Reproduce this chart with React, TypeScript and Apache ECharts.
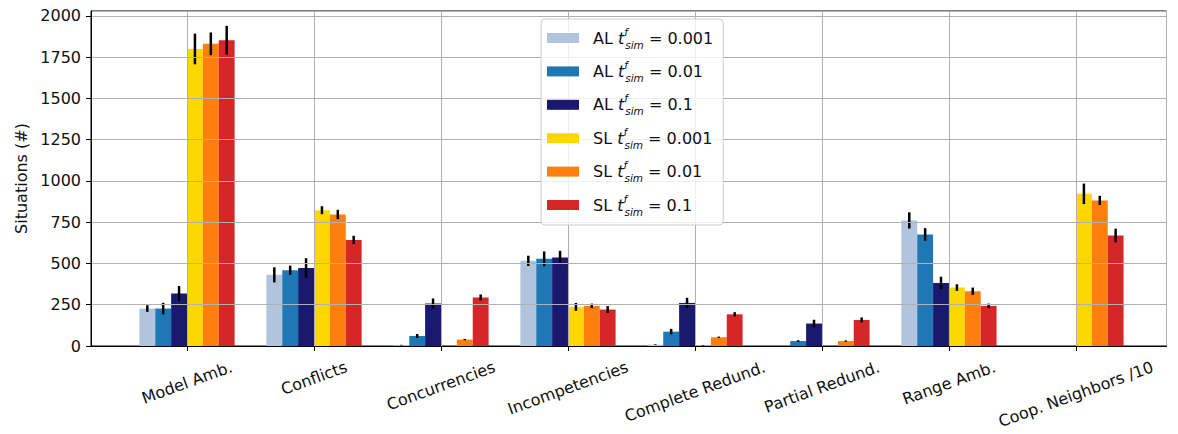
import React, { useEffect, useRef } from 'react';
import * as echarts from 'echarts';

// ---------------- data ----------------
const categories = [
  'Model Amb.',
  'Conflicts',
  'Concurrencies',
  'Incompetencies',
  'Complete Redund.',
  'Partial Redund.',
  'Range Amb.',
  'Coop. Neighbors /10',
];

const seriesPrefix = ['AL', 'AL', 'AL', 'SL', 'SL', 'SL'];
const seriesTime = ['0.001', '0.01', '0.1', '0.001', '0.01', '0.1'];
const seriesNames = seriesPrefix.map((p, i) => `${p} t_sim^f = ${seriesTime[i]}`);
const seriesColors = ['#b0c4de', '#1f77b4', '#191970', '#ffd700', '#ff7f0e', '#d62728'];

const al0001 = [227, 431, 5, 516, 8, 0, 761, 0];
const al001 = [227, 459, 61, 528, 87, 30, 676, 0];
const al01 = [318, 473, 257, 536, 261, 136, 382, 0];
const sl0001 = [1800, 823, 0, 237, 3, 0, 354, 922];
const sl001 = [1831, 797, 39, 243, 53, 30, 332, 882];
const sl01 = [1853, 643, 294, 221, 192, 158, 243, 670];

const al0001Err = [20, 46, 2, 31, 2, 0, 49, 0];
const al001Err = [35, 28, 12, 45, 17, 5, 38, 0];
const al01Err = [45, 59, 31, 41, 31, 23, 38, 0];
const sl0001Err = [93, 24, 0, 24, 2, 0, 20, 62];
const sl001Err = [69, 28, 4, 14, 4, 4, 22, 28];
const sl01Err = [87, 25, 18, 21, 13, 15, 14, 41];

const yTicks = [0, 250, 500, 750, 1000, 1250, 1500, 1750, 2000];

const seriesValues = [al0001, al001, al01, sl0001, sl001, sl01];
const seriesErrors = [al0001Err, al001Err, al01Err, sl0001Err, sl001Err, sl01Err];

// ---------------- style ----------------
const FONT = 'DejaVu Sans';
const FS = 16;
const TEXT = '#111';
const GRIDC = '#b0b0b0';
const BW = 0.125;
const ROT = 20;

function measure(text: string, size: number): number {
  const ctx = document.createElement('canvas').getContext('2d');
  if (!ctx) return text.length * size * 0.6;
  ctx.font = `${size}px "${FONT}"`;
  return ctx.measureText(text).width;
}

export default function App() {
  const ref = useRef<HTMLDivElement>(null);

  useEffect(() => {
    if (!ref.current) return;
    const chart = echarts.init(ref.current, null, { renderer: 'svg' });

    const rad = (ROT * Math.PI) / 180;
    const xRich: Record<string, any> = {};
    categories.forEach((c, i) => {
      const w = measure(c, FS);
      const h = FS * 1.1;
      const D = 12 + (w * Math.sin(rad) + h * Math.cos(rad)) / 2;
      xRich['l' + i] = {
        fontSize: FS,
        fontFamily: FONT,
        color: TEXT,
        lineHeight: h,
        padding: [2 * D * Math.cos(rad), 2 * D * Math.sin(rad), 0, 0],
      };
    });

    const series = seriesValues.map((vals, k) => ({
      type: 'custom',
      name: seriesNames[k],
      itemStyle: { color: seriesColors[k] },
      data: categories.map((_, i) => [i, vals[i], seriesErrors[k][i]]),
      encode: { x: 0, y: 1 },
      z: 2,
      renderItem: (params: any, api: any) => {
        const xi = api.value(0) as number;
        const v = api.value(1) as number;
        const e = api.value(2) as number;
        const cx = xi + (k - 2.5) * BW;
        const tl = api.coord([cx - BW / 2, v]);
        const br = api.coord([cx + BW / 2, 0]);
        const children: any[] = [];
        if (v > 0) {
          children.push({
            type: 'rect',
            shape: { x: tl[0], y: tl[1], width: br[0] - tl[0], height: br[1] - tl[1] },
            style: { fill: seriesColors[k] },
          });
        }
        if (e > 0) {
          const p1 = api.coord([cx, Math.max(0, v - e)]);
          const p2 = api.coord([cx, v + e]);
          children.push({
            type: 'line',
            shape: { x1: p1[0], y1: p1[1], x2: p2[0], y2: p2[1] },
            style: { stroke: '#000', lineWidth: 2.5 },
          });
        }
        return { type: 'group', children };
      },
    }));

    const sub = 10.5;
    chart.setOption({
      animation: false,
      backgroundColor: '#fff',
      textStyle: { fontFamily: FONT },
      grid: {
        left: 91,
        top: 11,
        right: 11.5,
        bottom: 88,
        containLabel: false,
        outerBoundsMode: 'none',
        show: true,
        borderColor: '#000',
        borderWidth: 1,
        backgroundColor: 'transparent',
      },
      legend: {
        orient: 'vertical',
        left: 541,
        top: 19,
        padding: [7, 10, 8, 6],
        itemWidth: 32,
        itemHeight: 10,
        itemGap: 9.4,
        icon: 'rect',
        backgroundColor: 'rgba(255,255,255,0.8)',
        borderColor: '#cccccc',
        borderWidth: 1,
        borderRadius: 4,
        data: seriesNames,
        formatter: (name: string) => {
          const i = seriesNames.indexOf(name);
          return `{p|${seriesPrefix[i]} }{t|t}{f|f}{s|sim}{n| = ${seriesTime[i]}}`;
        },
        textStyle: {
          fontFamily: FONT,
          fontSize: FS,
          color: TEXT,
          rich: {
            p: { fontFamily: FONT, fontSize: FS, color: TEXT, lineHeight: 24, padding: [0, 0, 0, 9] },
            t: { fontFamily: FONT, fontSize: FS, color: TEXT, fontStyle: 'italic', lineHeight: 24 },
            f: {
              fontFamily: FONT,
              fontSize: sub,
              color: TEXT,
              fontStyle: 'italic',
              lineHeight: 12,
              width: 1,
              verticalAlign: 'top',
            },
            s: {
              fontFamily: FONT,
              fontSize: sub,
              color: TEXT,
              fontStyle: 'italic',
              lineHeight: 12,
              verticalAlign: 'bottom',
            },
            n: { fontFamily: FONT, fontSize: FS, color: TEXT, lineHeight: 24 },
          },
        },
      },
      xAxis: [
        {
          type: 'value',
          min: -0.756,
          max: 7.713,
          splitNumber: 8,
          z: 3,
          axisLine: { show: true, onZero: false, lineStyle: { color: '#000', width: 1 } },
          axisTick: { show: true, length: 5, lineStyle: { color: '#000', width: 1 } },
          splitLine: { show: true, lineStyle: { color: GRIDC, width: 1 } },
          axisLabel: {
            show: true,
            rotate: ROT,
            margin: 0,
            align: 'center',
            verticalAlign: 'middle',
            showMinLabel: false,
            showMaxLabel: false,
            formatter: (v: number) => {
              const r = Math.round(v);
              if (Math.abs(v - r) > 1e-6 || r < 0 || r >= categories.length) return '';
              return `{l${r}|${categories[r]}}`;
            },
            rich: xRich,
          },
        },
      ],
      yAxis: [
        {
          type: 'value',
          min: 0,
          max: 2030,
          interval: 250,
          z: 3,
          name: 'Situations (#)',
          nameLocation: 'middle',
          nameRotate: 90,
          nameGap: 58,
          nameTextStyle: { fontFamily: FONT, fontSize: FS, color: TEXT },
          axisLine: { show: true, onZero: false, lineStyle: { color: '#000', width: 1 } },
          axisTick: { show: true, length: 5, lineStyle: { color: '#000', width: 1 } },
          splitLine: { show: true, lineStyle: { color: GRIDC, width: 1 } },
          axisLabel: {
            fontFamily: FONT,
            fontSize: FS,
            color: TEXT,
            margin: 10,
            showMaxLabel: false,
            formatter: (v: number) => (yTicks.indexOf(v) >= 0 ? String(v) : ''),
          },
        },
      ],
      series,
    });

    return () => chart.dispose();
  }, []);

  return (
    <div
      ref={ref}
      style={{ position: 'fixed', left: 0, top: 0, width: 1178, height: 434, background: '#fff' }}
    />
  );
}
